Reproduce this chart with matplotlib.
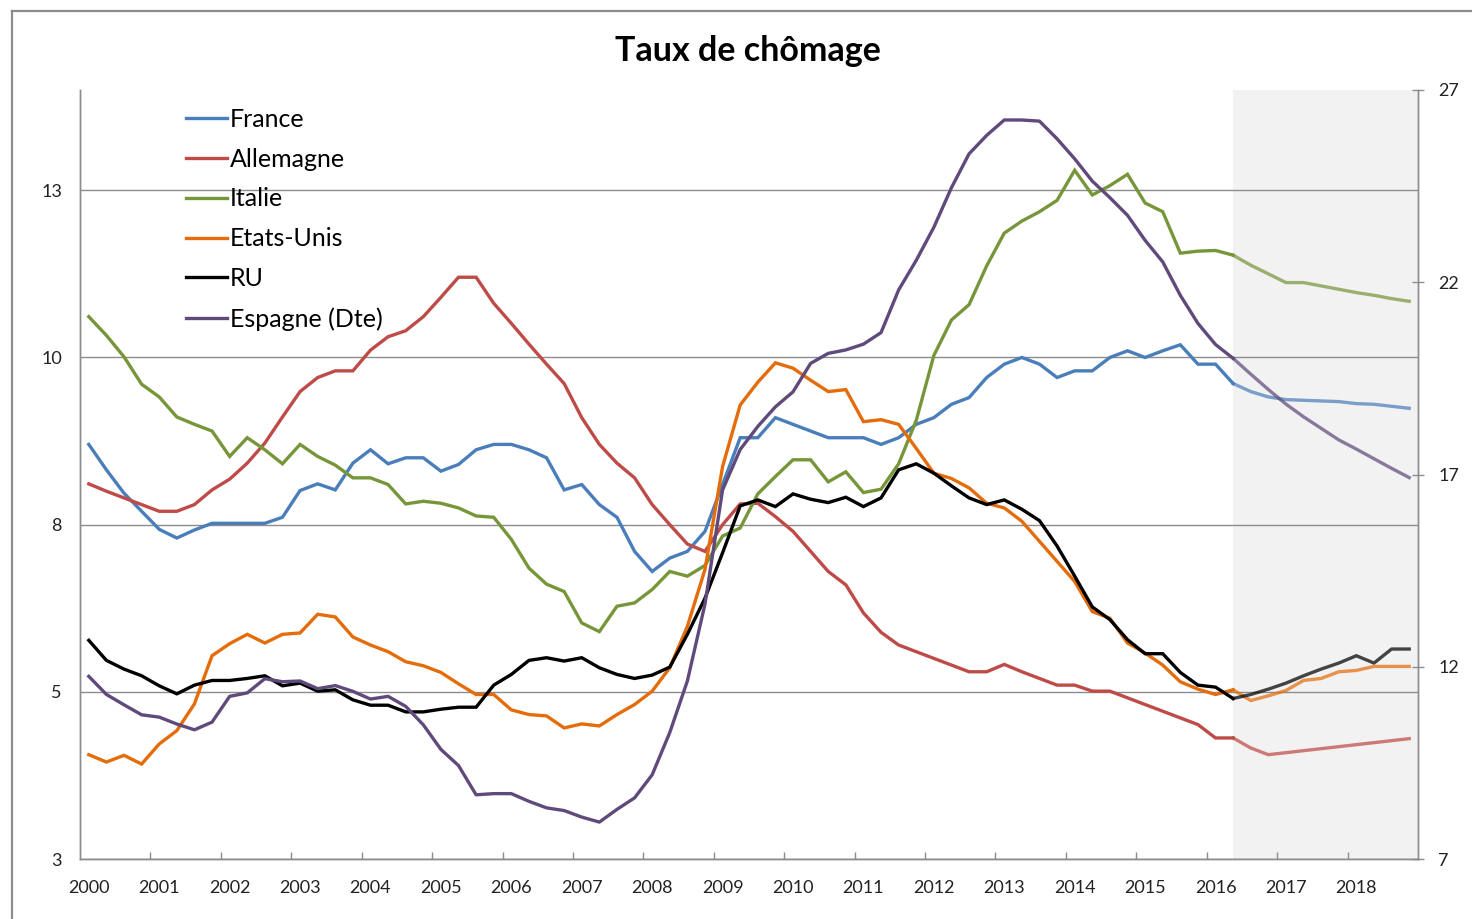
import matplotlib
matplotlib.use("Agg")
import matplotlib.pyplot as plt
from matplotlib.lines import Line2D
from matplotlib.ticker import FixedLocator

plt.rcParams['font.family'] = ['Lato', 'DejaVu Sans']

# ---------------- data (quarterly, 2000Q1 .. 2018Q4) ----------------
years = [str(y) for y in range(2000, 2019)]
forecast_start = 65          # first quarter of the forecast (2016Q2)

france = [8.70, 8.32, 7.97, 7.70, 7.43, 7.30, 7.42, 7.52, 7.52, 7.52, 7.52, 7.61,
          8.01, 8.11, 8.02, 8.42, 8.62, 8.41, 8.50, 8.50, 8.30, 8.40, 8.62, 8.70,
          8.70, 8.62, 8.50, 8.02, 8.10, 7.80, 7.61, 7.10, 6.80, 7.00, 7.10, 7.40,
          8.10, 8.80, 8.80, 9.10, 9.00, 8.90, 8.80, 8.80, 8.80, 8.70, 8.80, 9.00,
          9.10, 9.30, 9.40, 9.70, 9.90, 10.00, 9.90, 9.70, 9.80, 9.80, 10.00, 10.10,
          10.00, 10.10, 10.19, 9.90, 9.90, 9.61, 9.49, 9.41, 9.37, 9.36, 9.35, 9.34,
          9.31, 9.30, 9.27, 9.24]
allemagne = [8.11, 8.00, 7.90, 7.80, 7.70, 7.70, 7.80, 8.02, 8.18, 8.42, 8.72, 9.11,
             9.49, 9.70, 9.80, 9.80, 10.11, 10.31, 10.40, 10.61, 10.90, 11.20, 11.20, 10.81,
             10.51, 10.20, 9.90, 9.61, 9.10, 8.70, 8.42, 8.20, 7.80, 7.50, 7.21, 7.10,
             7.50, 7.81, 7.82, 7.62, 7.40, 7.10, 6.80, 6.60, 6.18, 5.89, 5.70, 5.60,
             5.50, 5.40, 5.30, 5.30, 5.41, 5.30, 5.20, 5.10, 5.10, 5.01, 5.01, 4.91,
             4.81, 4.71, 4.61, 4.51, 4.31, 4.31, 4.16, 4.06, 4.09, 4.12, 4.15, 4.18,
             4.21, 4.24, 4.27, 4.30]
italie = [10.61, 10.33, 10.01, 9.60, 9.41, 9.11, 9.00, 8.90, 8.52, 8.80, 8.62, 8.41,
          8.70, 8.52, 8.39, 8.20, 8.20, 8.10, 7.81, 7.85, 7.82, 7.75, 7.63, 7.61,
          7.28, 6.85, 6.61, 6.50, 6.03, 5.90, 6.28, 6.33, 6.53, 6.80, 6.73, 6.89,
          7.33, 7.45, 7.96, 8.22, 8.47, 8.47, 8.14, 8.29, 7.98, 8.03, 8.41, 9.06,
          10.03, 10.56, 10.79, 11.37, 11.86, 12.04, 12.18, 12.35, 12.80, 12.43, 12.57, 12.74,
          12.31, 12.18, 11.56, 11.59, 11.60, 11.53, 11.38, 11.25, 11.12, 11.12, 11.07, 11.02,
          10.97, 10.93, 10.88, 10.84]
etats_unis = [4.06, 3.95, 4.05, 3.92, 4.22, 4.42, 4.82, 5.54, 5.72, 5.86, 5.73, 5.86,
              5.88, 6.16, 6.12, 5.82, 5.70, 5.60, 5.45, 5.39, 5.29, 5.12, 4.96, 4.96,
              4.73, 4.66, 4.64, 4.46, 4.52, 4.49, 4.66, 4.81, 5.01, 5.36, 5.98, 6.83,
              8.37, 9.29, 9.63, 9.92, 9.84, 9.66, 9.49, 9.52, 9.04, 9.07, 9.00, 8.64,
              8.27, 8.19, 8.05, 7.82, 7.75, 7.55, 7.25, 6.95, 6.65, 6.20, 6.10, 5.73,
              5.58, 5.40, 5.15, 5.04, 4.96, 5.03, 4.87, 4.94, 5.02, 5.17, 5.20, 5.30,
              5.32, 5.38, 5.38, 5.38]
ru = [5.77, 5.47, 5.34, 5.24, 5.09, 4.97, 5.10, 5.17, 5.17, 5.20, 5.24, 5.09,
      5.13, 5.01, 5.03, 4.88, 4.80, 4.80, 4.70, 4.70, 4.74, 4.77, 4.77, 5.10,
      5.26, 5.47, 5.51, 5.46, 5.51, 5.36, 5.26, 5.20, 5.25, 5.37, 5.86, 6.40,
      7.08, 7.78, 7.87, 7.77, 7.96, 7.88, 7.83, 7.91, 7.77, 7.90, 8.32, 8.41,
      8.27, 8.08, 7.90, 7.80, 7.87, 7.73, 7.56, 7.18, 6.73, 6.27, 6.08, 5.78,
      5.57, 5.57, 5.29, 5.10, 5.07, 4.90, 4.96, 5.04, 5.13, 5.24, 5.34, 5.43,
      5.54, 5.43, 5.64, 5.64]
espagne = [11.75, 11.28, 11.01, 10.75, 10.69, 10.51, 10.36, 10.56, 11.23, 11.32, 11.69, 11.61,
           11.63, 11.43, 11.51, 11.36, 11.16, 11.23, 10.97, 10.49, 9.85, 9.43, 8.67, 8.70,
           8.70, 8.50, 8.33, 8.26, 8.09, 7.96, 8.29, 8.59, 9.19, 10.29, 11.63, 13.63,
           16.60, 17.65, 18.25, 18.76, 19.15, 19.89, 20.15, 20.24, 20.39, 20.69, 21.80, 22.57,
           23.43, 24.46, 25.34, 25.82, 26.22, 26.22, 26.19, 25.73, 25.21, 24.63, 24.20, 23.74,
           23.09, 22.53, 21.66, 20.93, 20.38, 20.02, 19.61, 19.21, 18.83, 18.50, 18.20, 17.90,
           17.66, 17.41, 17.16, 16.92]

left_ticks = [2.5, 5, 7.5, 10, 12.5]
left_tick_labels = ["3", "5", "8", "10", "13"]
right_ticks = [7, 12, 17, 22, 27]

series_left = [
    ("France", france, "#4A7EBB"),
    ("Allemagne", allemagne, "#BE4B48"),
    ("Italie", italie, "#77963A"),
    ("Etats-Unis", etats_unis, "#E46C0A"),
    ("RU", ru, "#000000"),
]
series_right = ("Espagne (Dte)", espagne, "#604A7B")

# ---------------- figure ----------------
W, H = 1472, 919
fig = plt.figure(figsize=(W / 100, H / 100), dpi=100)
ax = fig.add_axes([80 / W, 60 / H, 1338 / W, 769 / H])
ax2 = ax.twinx()

n = len(france)
x = list(range(n))
ax.set_xlim(-0.5, n - 0.5)
ax.set_ylim(2.5, 14)
ax2.set_ylim(7, 27)

ax.axvspan(forecast_start, n - 0.5, color="#F2F2F2", zorder=0, lw=0)
ax.set_axisbelow(True)
ax.yaxis.grid(True, color="#8C8C8C", lw=1.0)

LW = 2.4
FALPHA = 0.72
handles = []
for name, vals, col in series_left:
    ax.plot(x[:forecast_start + 1], vals[:forecast_start + 1], color=col, lw=LW,
            solid_joinstyle="miter", zorder=3)
    ax.plot(x[forecast_start:], vals[forecast_start:], color=col, lw=LW, alpha=FALPHA,
            zorder=3)
    handles.append(Line2D([], [], color=col, lw=LW, label=name))
name, vals, col = series_right
ax2.plot(x[:forecast_start + 1], vals[:forecast_start + 1], color=col, lw=LW, zorder=3)
ax2.plot(x[forecast_start:], vals[forecast_start:], color=col, lw=LW, alpha=FALPHA, zorder=3)
handles.append(Line2D([], [], color=col, lw=LW, label=name))

# axes styling
for a in (ax, ax2):
    a.spines["top"].set_visible(False)
    for s in ("left", "right", "bottom"):
        a.spines[s].set_color("#8C8C8C")
        a.spines[s].set_linewidth(1.0)

ax.yaxis.set_major_locator(FixedLocator(left_ticks))
ax.set_yticklabels(left_tick_labels)
ax.tick_params(axis="y", length=0, pad=13, labelsize=13, colors="#8C8C8C", labelcolor="#222222")

ax.set_xticks(list(range(0, n, 4)))
ax.set_xticklabels(years)
ax.set_xticks([k + 3.5 for k in range(0, n - 4, 4)], minor=True)
ax.tick_params(axis="x", which="major", length=0, pad=15, labelsize=13, labelcolor="#222222")
ax.tick_params(axis="x", which="minor", direction="in", length=5, width=1.0, color="#8C8C8C")

ax2.set_yticks(right_ticks)
ax2.set_yticklabels([str(v) for v in right_ticks])
ax2.tick_params(axis="y", direction="inout", length=9, width=1.0, color="#8C8C8C",
                pad=10, labelsize=13, labelcolor="#222222")

# legend
leg = ax2.legend(handles=handles, loc="upper left", bbox_to_anchor=(0.079, 0.977),
                 frameon=False, fontsize=18, handlelength=1.65, handletextpad=0.12,
                 labelspacing=0.675, borderaxespad=0, borderpad=0)

# title
fig.text(748 / W, 1 - 51 / H, "Taux de chômage", ha="center", va="center",
         fontsize=24.5, fontweight="bold", color="#000000")

# outer chart frame (left and top edges visible)
fig.add_artist(Line2D([12 / W, 12 / W], [0, 1 - 11 / H], transform=fig.transFigure,
                      color="#8C8C8C", lw=1.6))
fig.add_artist(Line2D([12 / W, 1], [1 - 11 / H, 1 - 11 / H], transform=fig.transFigure,
                      color="#8C8C8C", lw=1.6))

fig.savefig("out.png", dpi=100)
